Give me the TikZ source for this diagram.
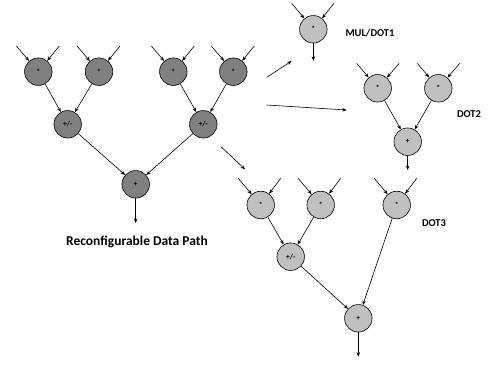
\documentclass[tikz,border=0pt]{standalone}
\usepackage{fontspec}
\setmainfont{Carlito}
\usetikzlibrary{arrows.meta}
\definecolor{darkop}{RGB}{128,128,128}
\definecolor{lightop}{RGB}{192,192,192}
\begin{document}
\begin{tikzpicture}[x=1pt,y=-1pt,
  op/.style={circle,draw=black,line width=0.6pt,minimum size=27.5pt,inner sep=0pt,font=\fontsize{7.5}{8}\selectfont\bfseries},
  dop/.style={op,fill=darkop},
  lop/.style={op,fill=lightop},
  arr/.style={-{Stealth[length=4.5pt,width=3.5pt]},line width=0.6pt},
  lbl/.style={font=\fontsize{10.5}{12}\selectfont\bfseries,inner sep=0pt}]
\useasboundingbox (0,0) rectangle (489,364);
% left reconfigurable data path
\node[dop] (m1) at (38.3,71.7) {*};
\node[dop] (m2) at (99,71.7) {*};
\node[dop] (m3) at (173.3,71.7) {*};
\node[dop] (m4) at (233.3,71.7) {*};
\node[dop] (a1) at (67.7,124.3) {+/-};
\node[dop] (a2) at (203.3,124.3) {+/-};
\node[dop] (s0) at (135.7,184.3) {+};
\coordinate (s0o) at (135.7,223);
\node[lbl,font=\fontsize{13.5}{15}\selectfont\bfseries] (lab0) at (137,242) {Reconfigurable Data Path};
\foreach \n/\x in {m1/38.3,m2/99,m3/173.3,m4/233.3}{
  \coordinate (\n l) at (\x-22,46);
  \coordinate (\n r) at (\x+21,46);
  \draw[arr] (\n l) -- (\n);
  \draw[arr] (\n r) -- (\n);
}
\draw[arr] (m1) -- (a1);
\draw[arr] (m2) -- (a1);
\draw[arr] (m3) -- (a2);
\draw[arr] (m4) -- (a2);
\draw[arr] (a1) -- (s0);
\draw[arr] (a2) -- (s0);
\draw[arr] (s0) -- (s0o);
% mapping arrows
\coordinate (p1s) at (266.7,77.3); \coordinate (p1e) at (291.7,61);
\coordinate (p2s) at (266.7,105); \coordinate (p2e) at (346.7,110);
\coordinate (p3s) at (221,146.7); \coordinate (p3e) at (245,169.3);
\draw[arr] (p1s) -- (p1e);
\draw[arr] (p2s) -- (p2e);
\draw[arr] (p3s) -- (p3e);
% MUL/DOT1
\node[lop] (d1) at (313.3,29.3) {*};
\coordinate (d1l) at (291.7,3.3); \coordinate (d1r) at (334,3.3);
\coordinate (d1o) at (313.3,60.7);
\draw[arr] (d1l) -- (d1);
\draw[arr] (d1r) -- (d1);
\draw[arr] (d1) -- (d1o);
\node[lbl] (lab1) at (370,33.5) {MUL/DOT1};
% DOT2
\node[lop] (e1) at (377.7,88.3) {*};
\node[lop] (e2) at (438.3,88.3) {*};
\node[lop] (e3) at (407.7,141.7) {+};
\coordinate (e3o) at (407.7,170);
\foreach \n/\x in {e1/377.7,e2/438.3}{
  \coordinate (\n l) at (\x-21,63.3);
  \coordinate (\n r) at (\x+21.5,63.3);
  \draw[arr] (\n l) -- (\n);
  \draw[arr] (\n r) -- (\n);
}
\draw[arr] (e1) -- (e3);
\draw[arr] (e2) -- (e3);
\draw[arr] (e3) -- (e3o);
\node[lbl] (lab2) at (469,114) {DOT2};
% DOT3
\node[lop] (f1) at (260.7,205) {*};
\node[lop] (f2) at (320.7,205) {*};
\node[lop] (f3) at (396.7,205) {*};
\node[lop] (f4) at (290.7,256.7) {+/-};
\node[lop] (f5) at (358.3,318.3) {+};
\coordinate (f5o) at (358.3,356.7);
\foreach \n/\x in {f1/260.7,f2/320.7,f3/396.7}{
  \coordinate (\n l) at (\x-22.5,178.3);
  \coordinate (\n r) at (\x+20,178.3);
  \draw[arr] (\n l) -- (\n);
  \draw[arr] (\n r) -- (\n);
}
\draw[arr] (f1) -- (f4);
\draw[arr] (f2) -- (f4);
\draw[arr] (f4) -- (f5);
\draw[arr] (f3) -- (f5);
\draw[arr] (f5) -- (f5o);
\node[lbl] (lab3) at (434,223) {DOT3};
\end{tikzpicture}
\end{document}
